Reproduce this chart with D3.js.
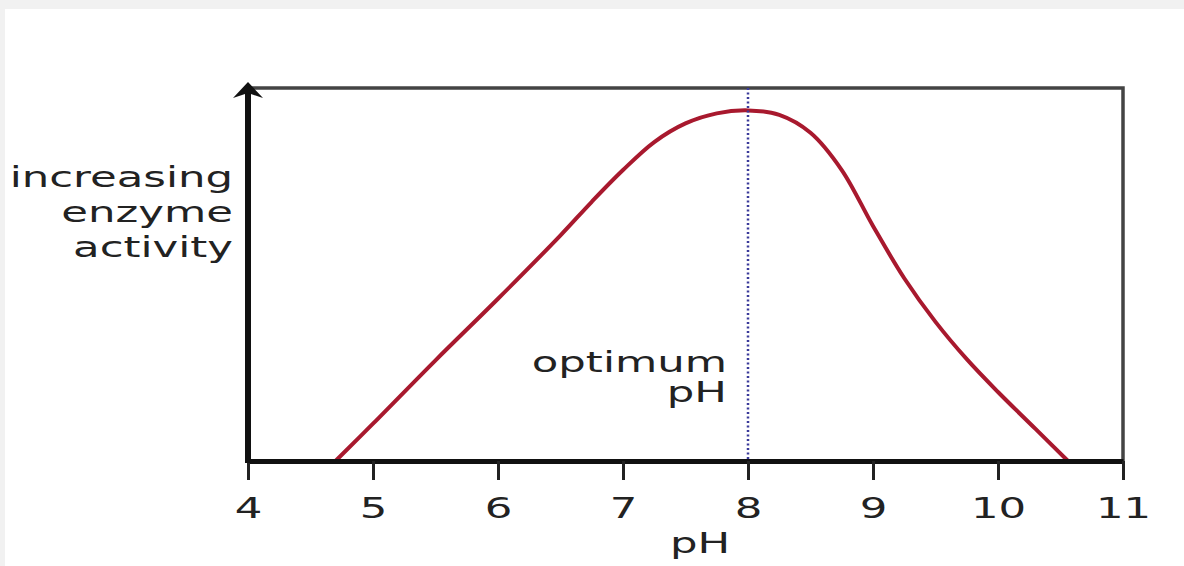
<!DOCTYPE html>
<html>
<head>
<meta charset="utf-8">
<script src="https://cdn.jsdelivr.net/npm/d3@7"></script>
<style>
body { margin: 0; background: #f1f1f1; }
text { font-family: "DejaVu Sans", sans-serif; fill: #222; }
</style>
</head>
<body>
<div id="chart"></div>
<script>
// chart values
var phTicks = [4, 5, 6, 7, 8, 9, 10, 11];
var phValues = [4.7, 5, 5.5, 6, 6.5, 6.75, 7, 7.25, 7.5, 7.75, 8, 8.25, 8.5, 8.75, 9, 9.25, 9.5, 9.75, 10, 10.3, 10.56];
var activity = [0, 10, 27, 43.5, 60.5, 69.5, 78, 85.5, 90.5, 93.2, 94, 92.8, 88, 78, 63, 49, 37.3, 27.3, 18.5, 8.6, 0];
var optimumPH = 8;
var yLabelLines = ["increasing", "enzyme", "activity"];
var optimumLines = ["optimum", "pH"];
var xLabel = "pH";

var width = 1184, height = 566;
var stretch = 1.55; // the original picture is stretched sideways

var x = d3.scaleLinear().domain([4, 11]).range([248, 1123]);
var y = d3.scaleLinear().domain([0, 100]).range([461, 88]);

var data = phValues.map(function(d, i) { return {ph: d, a: activity[i]}; });

var svg = d3.select('#chart').append('svg')
  .attr("width", width)
  .attr("height", height);

svg.append("rect")
  .attr("x", 5).attr("y", 9)
  .attr("width", width - 5).attr("height", height - 9)
  .attr("fill", "#fff");

// frame (top and right)
svg.append("path")
  .attr("d", "M" + x(4) + "," + y(100) + "H" + x(11) + "V" + y(0))
  .attr("fill", "none")
  .attr("stroke", "#444")
  .attr("stroke-width", 3.5);

// curve
var line = d3.line()
  .x(function(d) { return x(d.ph); })
  .y(function(d) { return y(d.a); })
  .curve(d3.curveCatmullRom);

svg.append("path")
  .datum(data)
  .attr("d", line)
  .attr("fill", "none")
  .attr("stroke", "#a8192e")
  .attr("stroke-width", 4);

// optimum line
svg.append("line")
  .attr("x1", x(optimumPH)).attr("x2", x(optimumPH))
  .attr("y1", y(100)).attr("y2", y(0))
  .attr("stroke", "#3a3a9a")
  .attr("stroke-width", 2.5)
  .attr("stroke-dasharray", "2,2.5");

// x axis
var xAxis = svg.append("g")
  .attr("transform", "translate(0," + y(0) + ")")
  .call(d3.axisBottom(x).tickValues(phTicks).tickFormat(d3.format("d"))
    .tickSize(19).tickSizeOuter(0));

xAxis.select(".domain").attr("stroke", "#111").attr("stroke-width", 5);
xAxis.selectAll(".tick line").attr("stroke", "#222").attr("stroke-width", 3);
xAxis.selectAll(".tick text")
  .attr("y", 57)
  .attr("dy", null)
  .attr("font-size", 28)
  .attr("fill", "#222")
  .attr("font-family", "DejaVu Sans")
  .attr("transform", "scale(" + stretch + ",1)");

// y axis with arrow
var x0 = x(4);
svg.append("line")
  .attr("x1", x0).attr("x2", x0)
  .attr("y1", y(0) + 2).attr("y2", y(100) + 4)
  .attr("stroke", "#111")
  .attr("stroke-width", 6);

var tip = y(100) - 6;
svg.append("path")
  .attr("d", "M" + x0 + "," + tip + "L" + (x0 + 15) + "," + (tip + 16) +
    "L" + x0 + "," + (tip + 11) + "L" + (x0 - 15) + "," + (tip + 16) + "Z")
  .attr("fill", "#111");

// labels
function stretchedText(str, px, py, anchor) {
  svg.append("text")
    .attr("transform", "translate(" + px + "," + py + ") scale(" + stretch + ",1)")
    .attr("text-anchor", anchor)
    .attr("font-size", 28)
    .text(str);
}

yLabelLines.forEach(function(s, i) {
  stretchedText(s, 233, 187 + i * 35, "end");
});

optimumLines.forEach(function(s, i) {
  stretchedText(s, x(optimumPH) - 21, 372 + i * 30, "end");
});

stretchedText(xLabel, 700, 553, "middle");
</script>
</body>
</html>
